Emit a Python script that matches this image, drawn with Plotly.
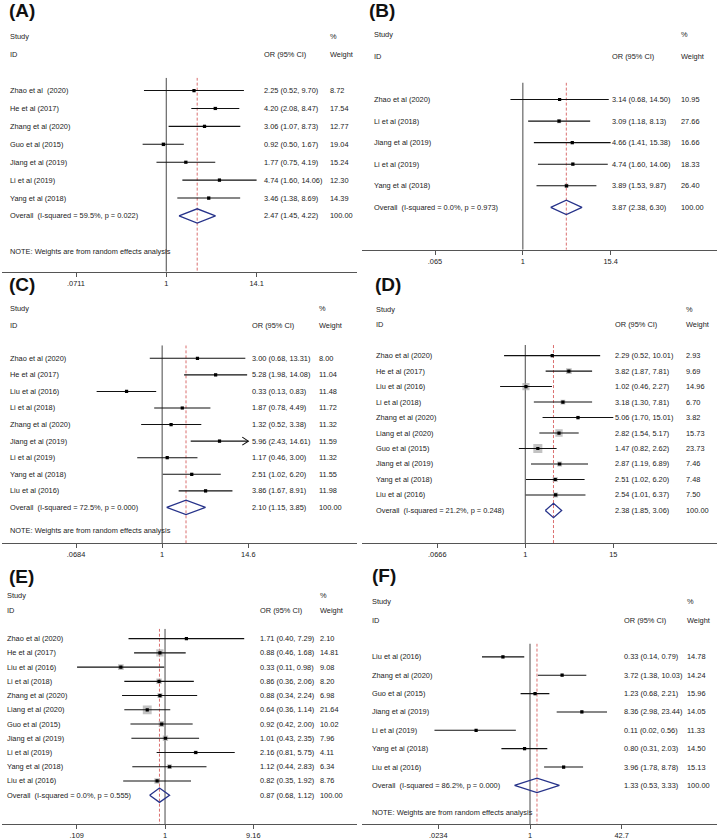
import math
import plotly.graph_objects as go

W, H = 720, 840
FONT = "Liberation Sans, Arial, sans-serif"

# ---- panel (A) ----
A_STUDY = ["Zhao et al\u00a0 (2020)", "He et al (2017)", "Zhang et al (2020)", "Guo et al (2015)",
           "Jiang et al (2019)", "Li et al (2019)", "Yang et al (2018)"]
A_OR = [2.25, 4.20, 3.06, 0.92, 1.77, 4.74, 3.46]
A_LO = [0.52, 2.08, 1.07, 0.50, 0.75, 1.60, 1.38]
A_HI = [9.70, 8.47, 8.73, 1.67, 4.19, 14.06, 8.69]
A_WT = [8.72, 17.54, 12.77, 19.04, 15.24, 12.30, 14.39]
A_OVERALL = [2.47, 1.45, 4.22]
A_HET = "59.5%, p = 0.022"
A_TICKS = [0.0711, 1, 14.1]
A_TICKTEXT = [".0711", "1", "14.1"]

# ---- panel (B) ----
B_STUDY = ["Zhao et al (2020)", "Li et al (2018)", "Jiang et al (2019)", "Li et al (2019)", "Yang et al (2018)"]
B_OR = [3.14, 3.09, 4.66, 4.74, 3.89]
B_LO = [0.68, 1.18, 1.41, 1.60, 1.53]
B_HI = [14.50, 8.13, 15.38, 14.06, 9.87]
B_WT = [10.95, 27.66, 16.66, 18.33, 26.40]
B_OVERALL = [3.87, 2.38, 6.30]
B_HET = "0.0%, p = 0.973"
B_TICKS = [0.065, 1, 15.4]
B_TICKTEXT = [".065", "1", "15.4"]

# ---- panel (C) ----
C_STUDY = ["Zhao et al (2020)", "He et al (2017)", "Liu et al (2016)", "Li et al (2018)", "Zhang et al (2020)",
           "Jiang et al (2019)", "Li et al (2019)", "Yang et al (2018)", "Liu et al (2016)"]
C_OR = [3.00, 5.28, 0.33, 1.87, 1.32, 5.96, 1.17, 2.51, 3.86]
C_LO = [0.68, 1.98, 0.13, 0.78, 0.52, 2.43, 0.46, 1.02, 1.67]
C_HI = [13.31, 14.08, 0.83, 4.49, 3.38, 14.61, 3.00, 6.20, 8.91]
C_WT = [8.00, 11.04, 11.48, 11.72, 11.32, 11.59, 11.32, 11.55, 11.98]
C_OVERALL = [2.10, 1.15, 3.85]
C_HET = "72.5%, p = 0.000"
C_TICKS = [0.0684, 1, 14.6]
C_TICKTEXT = [".0684", "1", "14.6"]
C_ARROWS = [5]

# ---- panel (D) ----
D_STUDY = ["Zhao et al (2020)", "He et al (2017)", "Liu et al (2016)", "Li et al (2018)", "Zhang et al (2020)",
           "Liang et al (2020)", "Guo et al (2015)", "Jiang et al (2019)", "Yang et al (2018)", "Liu et al (2016)"]
D_OR = [2.29, 3.82, 1.02, 3.18, 5.06, 2.82, 1.47, 2.87, 2.51, 2.54]
D_LO = [0.52, 1.87, 0.46, 1.30, 1.70, 1.54, 0.82, 1.19, 1.02, 1.01]
D_HI = [10.01, 7.81, 2.27, 7.81, 15.01, 5.17, 2.62, 6.89, 6.20, 6.37]
D_WT = [2.93, 9.69, 14.96, 6.70, 3.82, 15.73, 23.73, 7.46, 7.48, 7.50]
D_OVERALL = [2.38, 1.85, 3.06]
D_HET = "21.2%, p = 0.248"
D_TICKS = [0.0666, 1, 15]
D_TICKTEXT = [".0666", "1", "15"]

# ---- panel (E) ----
E_STUDY = ["Zhao et al (2020)", "He et al (2017)", "Liu et al (2016)", "Li et al (2018)", "Zhang et al (2020)",
           "Liang et al (2020)", "Guo et al (2015)", "Jiang et al (2019)", "Li et al (2019)", "Yang et al (2018)",
           "Liu et al (2016)"]
E_OR = [1.71, 0.88, 0.33, 0.86, 0.88, 0.64, 0.92, 1.01, 2.16, 1.12, 0.82]
E_LO = [0.40, 0.46, 0.11, 0.36, 0.34, 0.36, 0.42, 0.43, 0.81, 0.44, 0.35]
E_HI = [7.29, 1.68, 0.98, 2.06, 2.24, 1.14, 2.00, 2.35, 5.75, 2.83, 1.92]
E_WT = [2.10, 14.81, 9.08, 8.20, 6.98, 21.64, 10.02, 7.96, 4.11, 6.34, 8.76]
E_OVERALL = [0.87, 0.68, 1.12]
E_HET = "0.0%, p = 0.555"
E_TICKS = [0.109, 1, 9.16]
E_TICKTEXT = [".109", "1", "9.16"]

# ---- panel (F) ----
F_STUDY = ["Liu et al (2016)", "Zhang et al (2020)", "Guo et al (2015)", "Jiang et al (2019)", "Li et al (2019)",
           "Yang et al (2018)", "Liu et al (2016)"]
F_OR = [0.33, 3.72, 1.23, 8.36, 0.11, 0.80, 3.96]
F_LO = [0.14, 1.38, 0.68, 2.98, 0.02, 0.31, 1.78]
F_HI = [0.79, 10.03, 2.21, 23.44, 0.56, 2.03, 8.78]
F_WT = [14.78, 14.24, 15.96, 14.05, 11.33, 14.50, 15.13]
F_OVERALL = [1.33, 0.53, 3.33]
F_HET = "86.2%, p = 0.000"
F_TICKS = [0.0234, 1, 42.7]
F_TICKTEXT = [".0234", "1", "42.7"]

NOTE = "NOTE: Weights are from random effects analysis"

PANELS = [
    dict(tag="(A)", study=A_STUDY, est=A_OR, lo=A_LO, hi=A_HI, wt=A_WT, overall=A_OVERALL, het=A_HET,
         ticks=A_TICKS, ticktext=A_TICKTEXT, arrows=[], note=True,
         left=0, title_y=11, title_x=7, first=91, step=18, top=78, axis=273, note_y=253,
         tick_px=(76, 256.7), cols=(8, 262, 328), box_k=0.9),
    dict(tag="(B)", study=B_STUDY, est=B_OR, lo=B_LO, hi=B_HI, wt=B_WT, overall=B_OVERALL, het=B_HET,
         ticks=B_TICKS, ticktext=B_TICKTEXT, arrows=[], note=False,
         left=360, title_y=11, title_x=7, first=100, step=21.67, top=83, axis=251, note_y=None,
         tick_px=(75, 250.7), cols=(11.7, 250, 319), box_k=0.8),
    dict(tag="(C)", study=C_STUDY, est=C_OR, lo=C_LO, hi=C_HI, wt=C_WT, overall=C_OVERALL, het=C_HET,
         ticks=C_TICKS, ticktext=C_TICKTEXT, arrows=C_ARROWS, note=True,
         left=0, title_y=285.5, title_x=7, first=360, step=16.65, top=347, axis=546, note_y=533,
         tick_px=(76, 248.3), cols=(8.3, 250, 316.7), box_k=0.9),
    dict(tag="(D)", study=D_STUDY, est=D_OR, lo=D_LO, hi=D_HI, wt=D_WT, overall=D_OVERALL, het=D_HET,
         ticks=D_TICKS, ticktext=D_TICKTEXT, arrows=[], note=False,
         left=360, title_y=285.5, title_x=13, first=357.3, step=15.56, top=346.7, axis=546, note_y=None,
         tick_px=(77.3, 253.3), cols=(14, 253.3, 324), box_k=1.85),
    dict(tag="(E)", study=E_STUDY, est=E_OR, lo=E_LO, hi=E_HI, wt=E_WT, overall=E_OVERALL, het=E_HET,
         ticks=E_TICKS, ticktext=E_TICKTEXT, arrows=[], note=False,
         left=0, title_y=579, title_x=7, first=641.7, step=14.3, top=631.7, axis=828.3, note_y=None,
         tick_px=(76.7, 253.3), cols=(5, 258.3, 318.3), box_k=1.9),
    dict(tag="(F)", study=F_STUDY, est=F_OR, lo=F_LO, hi=F_HI, wt=F_WT, overall=F_OVERALL, het=F_HET,
         ticks=F_TICKS, ticktext=F_TICKTEXT, arrows=[], note=True,
         left=360, title_y=578, title_x=10, first=660, step=18.45, top=646.7, axis=828.3, note_y=816.7,
         tick_px=(78.3, 261.7), cols=(10, 261.7, 325), box_k=0.8),
]

TXT = dict(family=FONT, size=7.4, color="#222222")
NAVY = "#27338a"

fig = go.Figure()
annotations = []

for k, p in enumerate(PANELS, start=1):
    xa = "x" if k == 1 else f"x{k}"
    ya = "y" if k == 1 else f"y{k}"
    L = p["left"]
    n = len(p["study"])
    first, step = p["first"], p["step"]

    def row(px):
        return (px - first) / step

    # x axis: log scale, range set so the ticks land where the reference puts them
    lo_t, _, hi_t = p["ticks"]
    plo, phi = p["tick_px"]
    ppd = (phi - plo) / (math.log10(hi_t) - math.log10(lo_t))
    ax0, ax1 = L + 2, L + 357
    xrange = [math.log10(lo_t) - (L + plo - ax0) / ppd, math.log10(hi_t) + (ax1 - L - phi) / ppd]
    fig.update_layout(**{
        ("xaxis" if k == 1 else f"xaxis{k}"): dict(
            type="log", range=xrange, domain=[ax0 / W, ax1 / W], anchor=ya,
            showgrid=False, zeroline=False, showline=True, linecolor="#555555", linewidth=1,
            ticks="outside", ticklen=4, tickcolor="#555555", tickwidth=1,
            tickvals=p["ticks"], ticktext=p["ticktext"], tickfont=TXT, fixedrange=True),
        ("yaxis" if k == 1 else f"yaxis{k}"): dict(
            range=[row(p["axis"]), row(p["top"])], domain=[1 - p["axis"] / H, 1 - p["top"] / H],
            anchor=xa, visible=False, fixedrange=True),
    })

    rows = list(range(n))
    ytop, ybot = row(p["top"]), row(p["axis"])
    common = dict(xaxis=xa, yaxis=ya, showlegend=False, hoverinfo="skip")

    # null line at OR = 1 and dashed line at the pooled estimate
    fig.add_trace(go.Scatter(x=[1, 1], y=[ytop, ybot], mode="lines",
                             line=dict(color="#666666", width=1.2), **common))
    est0 = p["overall"][0]
    fig.add_trace(go.Scatter(x=[est0, est0], y=[ytop, ybot], mode="lines",
                             line=dict(color="#d04a4a", width=0.8, dash="3px,2px"), **common))

    # weight boxes
    fig.add_trace(go.Scatter(x=p["est"], y=rows, mode="markers",
                             marker=dict(symbol="square", color="#aaaaaa",
                                         size=[p["box_k"] * math.sqrt(w) for w in p["wt"]],
                                         line=dict(width=0)), **common))

    # confidence intervals (clipped with an arrow where the reference shows one)
    cx, cy = [], []
    for i in rows:
        hi = min(p["hi"][i], hi_t) if i in p["arrows"] else p["hi"][i]
        cx += [p["lo"][i], hi, None]
        cy += [i, i, None]
    for i in p["arrows"]:
        tip = math.log10(hi_t)
        back = 10 ** (tip - 6 / ppd)
        cx += [back, hi_t, back, None]
        cy += [i - 4 / step, i, i + 4 / step, None]
    fig.add_trace(go.Scatter(x=cx, y=cy, mode="lines", line=dict(color="#111111", width=1.1), **common))

    # point estimates
    fig.add_trace(go.Scatter(x=p["est"], y=rows, mode="markers",
                             marker=dict(symbol="square", color="#000000", size=3.2), **common))

    # pooled diamond
    oe, ol, oh = p["overall"]
    hh = 7.2 / step
    fig.add_trace(go.Scatter(x=[ol, oe, oh, oe, ol], y=[n, n - hh, n, n + hh, n], mode="lines",
                             line=dict(color=NAVY, width=1.3), **common))

    # texts (paper coordinates, rows evenly spaced from the first study row)
    c_lab, c_or, c_wt = [(L + c) / W for c in p["cols"]]

    def txt(x, r, s):
        annotations.append(dict(x=x, y=1 - (first + r * step) / H, xref="paper", yref="paper",
                                text=s, showarrow=False, xanchor="left", yanchor="middle", font=TXT))

    annotations.append(dict(x=(L + p["title_x"]) / W, y=1 - p["title_y"] / H, xref="paper", yref="paper",
                            text="<b>" + p["tag"] + "</b>", showarrow=False, xanchor="left",
                            yanchor="middle", font=dict(family=FONT, size=19, color="#111111")))
    txt(c_lab, -3, "Study")
    txt(c_wt, -3, "%")
    txt(c_lab, -2, "ID")
    txt(c_or, -2, "OR (95% CI)")
    txt(c_wt, -2, "Weight")
    for i in rows:
        txt(c_lab, i, p["study"][i])
        txt(c_or, i, f"{p['est'][i]:.2f} ({p['lo'][i]:.2f}, {p['hi'][i]:.2f})")
        txt(c_wt, i, f"{p['wt'][i]:.2f}")
    txt(c_lab, n, "Overall\u00a0 (I-squared = " + p["het"] + ")")
    txt(c_or, n, f"{oe:.2f} ({ol:.2f}, {oh:.2f})")
    txt(c_wt, n, "100.00")
    if p["note"]:
        txt(c_lab, row(p["note_y"]), NOTE)

fig.update_layout(width=W, height=H, margin=dict(l=0, r=0, t=0, b=0),
                  paper_bgcolor="white", plot_bgcolor="white",
                  annotations=annotations, font=TXT)

# the page body has a default 8px margin; drop it so the figure sits at the window corner
fig.write_html("out.html", config={"displayModeBar": False},
               post_script="document.body.style.margin='0';")
